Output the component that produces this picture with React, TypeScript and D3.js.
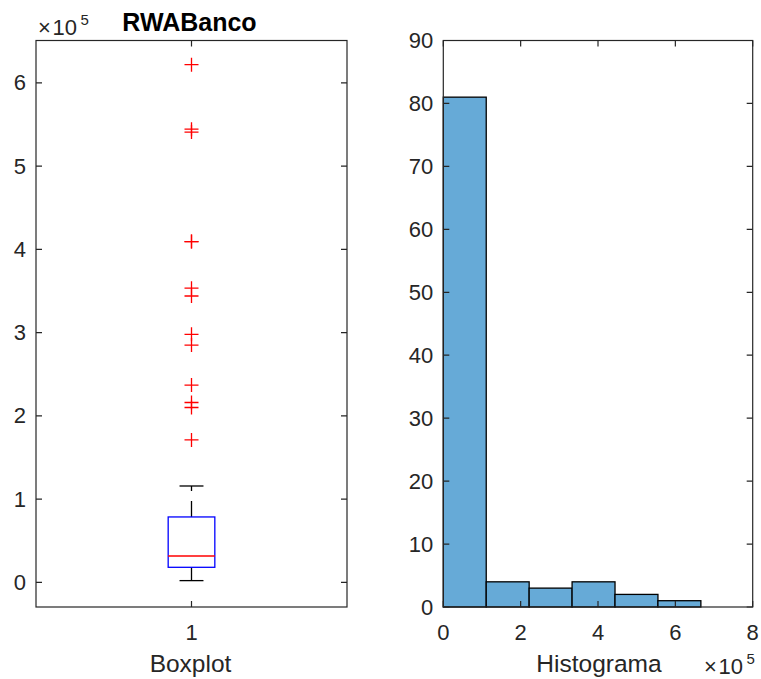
import * as d3 from "d3";
import { useEffect, useRef } from "react";

// boxplot stats for RWABanco
const boxGroups = ["1"];
const q1 = [18000];
const medians = [31600];
const q3 = [78500];
const whiskerLow = [2000];
const whiskerHigh = [115700];
const outliers = [622000, 544500, 541000, 409400, 409400, 353400, 344000, 298000, 285000, 237000, 216000, 210000, 171000];

// histogram
const binEdges = [0, 111000, 222000, 333000, 444000, 555000, 666000];
const binCounts = [81, 4, 3, 4, 2, 1];

const boxYTicks = [0, 100000, 200000, 300000, 400000, 500000, 600000];
const histXTicks = [0, 200000, 400000, 600000, 800000];
const histYTicks = [0, 10, 20, 30, 40, 50, 60, 70, 80, 90];

const FONT = "'Liberation Sans', Arial, Helvetica, sans-serif";
const AX = "#262626";
const TICK_FS = 22;
const LABEL_FS = 24.5;
const TL = 6;

// "×10^5" multiplier drawn piece by piece
function addExponent(parent, x, baseline) {
    const t = parent.append("text")
        .style("font-family", FONT).style("font-size", `${TICK_FS}px`).attr("fill", AX);
    t.append("tspan").attr("x", x).attr("y", baseline).text("×");
    t.append("tspan").attr("x", x + 14.5).attr("y", baseline).text("10");
    t.append("tspan").attr("x", x + 42.5).attr("y", baseline - 10).style("font-size", "15px").text("5");
}

export default function App() {
    const ref = useRef<SVGSVGElement>(null);

    useEffect(() => {
        document.body.style.margin = "0";
        const svg = d3.select(ref.current);
        svg.selectAll("*").remove();

        svg.attr("width", 761).attr("height", 679).style("background", "#fff");

        // ---------- left: boxplot ----------
        const L = { x0: 36, x1: 347, y0: 40.5, y1: 607 };
        const x = d3.scaleLinear().domain([0.5, 1.5]).range([L.x0, L.x1]);
        const y = d3.scaleLinear().domain([-29700, 651000]).range([L.y1, L.y0]);

        const g = svg.append("g");

        boxGroups.forEach((_, i) => {
            const c = i + 1;
            // whiskers, dashed
            g.append("line")
                .attr("x1", x(c)).attr("x2", x(c))
                .attr("y1", y(q3[i])).attr("y2", y(whiskerHigh[i]))
                .attr("stroke", "#000").attr("stroke-width", 1.3)
                .attr("stroke-dasharray", "16,10");
            g.append("line")
                .attr("x1", x(c)).attr("x2", x(c))
                .attr("y1", y(q1[i])).attr("y2", y(whiskerLow[i]))
                .attr("stroke", "#000").attr("stroke-width", 1.3)
                .attr("stroke-dasharray", "16,10");
            // caps
            [whiskerHigh[i], whiskerLow[i]].forEach(v => {
                g.append("line")
                    .attr("x1", x(c - 0.0385)).attr("x2", x(c + 0.0385))
                    .attr("y1", y(v)).attr("y2", y(v))
                    .attr("stroke", "#000").attr("stroke-width", 1.3);
            });
            // box
            g.append("rect")
                .attr("x", x(c - 0.075))
                .attr("y", y(q3[i]))
                .attr("width", x(c + 0.075) - x(c - 0.075))
                .attr("height", y(q1[i]) - y(q3[i]))
                .attr("fill", "none")
                .attr("stroke", "#0000ff").attr("stroke-width", 1.3);
            g.append("line")
                .attr("x1", x(c - 0.075)).attr("x2", x(c + 0.075))
                .attr("y1", y(medians[i])).attr("y2", y(medians[i]))
                .attr("stroke", "#ff0000").attr("stroke-width", 1.3);
            // outliers
            outliers.forEach(v => {
                const py = y(v);
                g.append("path")
                    .attr("d", `M${x(c) - 7},${py}H${x(c) + 7}M${x(c)},${py - 7}V${py + 7}`)
                    .attr("stroke", "#ff0000").attr("stroke-width", 1.3).attr("fill", "none");
            });
        });

        // frame + ticks
        g.append("rect")
            .attr("x", L.x0).attr("y", L.y0)
            .attr("width", L.x1 - L.x0).attr("height", L.y1 - L.y0)
            .attr("fill", "none").attr("stroke", AX).attr("stroke-width", 1.2);

        boxYTicks.forEach(t => {
            const py = y(t);
            g.append("path")
                .attr("d", `M${L.x0},${py}h${TL}M${L.x1},${py}h${-TL}`)
                .attr("stroke", AX).attr("stroke-width", 1.2);
            g.append("text")
                .attr("x", L.x0 - 10).attr("y", py)
                .attr("text-anchor", "end").attr("dominant-baseline", "central")
                .style("font-family", FONT).style("font-size", `${TICK_FS}px`).attr("fill", AX)
                .text(t / 100000);
        });
        boxGroups.forEach((lab, i) => {
            const px = x(i + 1);
            g.append("path")
                .attr("d", `M${px},${L.y1}v${-TL}M${px},${L.y0}v${TL}`)
                .attr("stroke", AX).attr("stroke-width", 1.2);
            g.append("text")
                .attr("x", px).attr("y", 639.5)
                .attr("text-anchor", "middle")
                .style("font-family", FONT).style("font-size", `${TICK_FS}px`).attr("fill", AX)
                .text(lab);
        });

        addExponent(g, 38, 35);

        g.append("text")
            .attr("x", (L.x0 + L.x1) / 2 - 2).attr("y", 30.5)
            .attr("text-anchor", "middle")
            .style("font-family", FONT).style("font-size", "25px").style("font-weight", "bold")
            .attr("fill", "#000")
            .text("RWABanco");

        g.append("text")
            .attr("x", (L.x0 + L.x1) / 2 - 1).attr("y", 672)
            .attr("text-anchor", "middle")
            .style("font-family", FONT).style("font-size", `${LABEL_FS}px`).attr("fill", AX)
            .text("Boxplot");

        // ---------- right: histogram ----------
        const R = { x0: 443.3, x1: 752.7, y0: 40.5, y1: 607 };
        const hx = d3.scaleLinear().domain([0, 800000]).range([R.x0, R.x1]);
        const hy = d3.scaleLinear().domain([0, 90]).range([R.y1, R.y0]);
        const h = svg.append("g");

        const bins = binCounts.map((n, i) => ({ x0: binEdges[i], x1: binEdges[i + 1], n }));
        h.selectAll("rect.bar")
            .data(bins)
            .enter()
            .append("rect")
            .attr("class", "bar")
            .attr("x", d => hx(d.x0))
            .attr("y", d => hy(d.n))
            .attr("width", d => hx(d.x1) - hx(d.x0))
            .attr("height", d => hy(0) - hy(d.n))
            .attr("fill", "#66aad7")
            .attr("stroke", "#000").attr("stroke-width", 1.3);

        h.append("rect")
            .attr("x", R.x0).attr("y", R.y0)
            .attr("width", R.x1 - R.x0).attr("height", R.y1 - R.y0)
            .attr("fill", "none").attr("stroke", AX).attr("stroke-width", 1.2);

        histYTicks.forEach(t => {
            const py = hy(t);
            h.append("path")
                .attr("d", `M${R.x0},${py}h${TL}M${R.x1},${py}h${-TL}`)
                .attr("stroke", AX).attr("stroke-width", 1.2);
            h.append("text")
                .attr("x", R.x0 - 10).attr("y", py)
                .attr("text-anchor", "end").attr("dominant-baseline", "central")
                .style("font-family", FONT).style("font-size", `${TICK_FS}px`).attr("fill", AX)
                .text(t);
        });
        histXTicks.forEach(t => {
            const px = hx(t);
            h.append("path")
                .attr("d", `M${px},${R.y1}v${-TL}M${px},${R.y0}v${TL}`)
                .attr("stroke", AX).attr("stroke-width", 1.2);
            h.append("text")
                .attr("x", px).attr("y", 639.5)
                .attr("text-anchor", "middle")
                .style("font-family", FONT).style("font-size", `${TICK_FS}px`).attr("fill", AX)
                .text(t / 100000);
        });

        h.append("text")
            .attr("x", 599).attr("y", 672)
            .attr("text-anchor", "middle")
            .style("font-family", FONT).style("font-size", `${LABEL_FS}px`).attr("fill", AX)
            .text("Histograma");

        addExponent(h, 704, 674.3);
    }, []);

    return (
        <div style={{ position: "relative" }}>
            <svg ref={ref} />
        </div>
    );
}
